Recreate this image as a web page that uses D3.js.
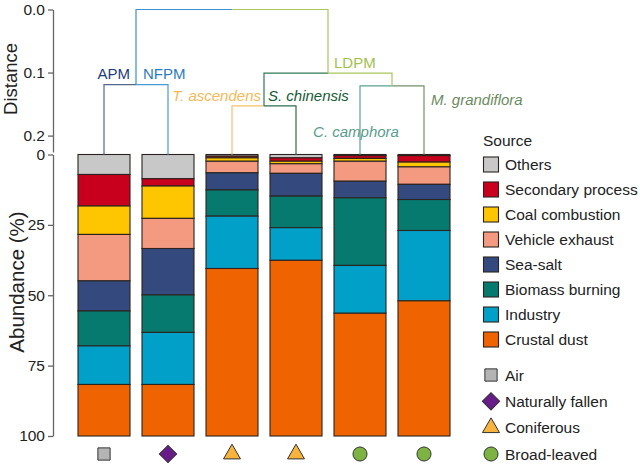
<!DOCTYPE html>
<html>
<head>
<meta charset="utf-8">
<script src="https://cdn.jsdelivr.net/npm/d3@7"></script>
<style>
  body { margin: 0; background: #fff; }
  svg { display: block; font-family: "Liberation Sans", Arial, sans-serif; }
  .axis path, .axis line { stroke: #666; stroke-width: 1.3; }
  .axis text { fill: #222; font-size: 15.5px; font-family: "Liberation Sans", Arial, sans-serif; }
</style>
</head>
<body>
<svg id="chart" width="640" height="464"></svg>
<script>
  "use strict";

  // samples (one bar each), left to right
  const samples = ["APM", "NFPM", "T. ascendens", "S. chinensis", "C. camphora", "M. grandiflora"];
  const sampleType = ["Air", "Naturally fallen", "Coniferous", "Coniferous", "Broad-leaved", "Broad-leaved"];

  // sources, stacked from the top down
  const sources = ["Others", "Secondary process", "Coal combustion", "Vehicle exhaust",
                   "Sea-salt", "Biomass burning", "Industry", "Crustal dust"];

  // abundance (%) per sample
  const others     = [7.1, 8.6, 0.6, 1.2, 0.4, 0.4];
  const secondary  = [11.2, 2.6, 0.6, 1.2, 1.0, 2.3];
  const coal       = [10.1, 11.5, 1.2, 0.9, 1.0, 1.7];
  const vehicle    = [16.5, 10.7, 4.1, 3.4, 7.1, 6.2];
  const seaSalt    = [10.7, 16.5, 6.1, 8.1, 5.9, 5.4];
  const biomass    = [12.4, 13.3, 9.3, 11.2, 24.0, 11.0];
  const industry   = [13.7, 18.5, 18.6, 11.6, 17.0, 25.0];
  const crustal    = [18.3, 18.3, 59.5, 62.4, 43.6, 48.0];
  const seriesValues = [others, secondary, coal, vehicle, seaSalt, biomass, industry, crustal];

  // cluster merges (distance of each join)
  const merges = [
    { id: "AN", left: "APM", right: "NFPM", height: 0.119 },
    { id: "TS", left: "T. ascendens", right: "S. chinensis", height: 0.153 },
    { id: "CM", left: "C. camphora", right: "M. grandiflora", height: 0.121 },
    { id: "LDPM", left: "TS", right: "CM", height: 0.101 },
    { id: "root", left: "AN", right: "LDPM", height: 0 },
  ];

  const distanceTicks = [0, 0.1, 0.2];
  const abundanceTicks = [0, 25, 50, 75, 100];
  const shapeTypes = ["Air", "Naturally fallen", "Coniferous", "Broad-leaved"];

  // ---- styles ----
  const sourceColor = d3.scaleOrdinal().domain(sources).range([
    "#c8c8c8", "#c8001e", "#fec601", "#f49a80", "#344a7e", "#077a70", "#00a0c8", "#f06400"]);

  const branchColor = {
    "AN": "#3d8fcf", "APM": "#56678c", "NFPM": "#4a9ad4",
    "LDPM": "#a9c55e", "TS": "#2e7a55", "T. ascendens": "#f6c06a", "S. chinensis": "#2e6b50",
    "CM": "#a9c55e", "C. camphora": "#5aa393", "M. grandiflora": "#73906a",
  };

  const shapeStyle = {
    "Air": { sym: d3.symbolSquare, size: 150, fill: "#b4b4b4", rot: 0 },
    "Naturally fallen": { sym: d3.symbolSquare, size: 150, fill: "#6a1b8a", rot: 45 },
    "Coniferous": { sym: d3.symbolTriangle, size: 125, fill: "#f8b33c", rot: 0 },
    "Broad-leaved": { sym: d3.symbolCircle, size: 155, fill: "#7cb342", rot: 0 },
  };

  const svg = d3.select("#chart");

  // ---- scales ----
  const x = d3.scaleBand().domain(samples).range([72, 456])
    .paddingInner(0.1875).paddingOuter(0.09375);
  const yAb = d3.scaleLinear().domain([0, 100]).range([154.5, 436]);
  const yDist = d3.scaleLinear().domain([0, 0.226]).range([9.5, 152]);

  // ---- stacked bars ----
  const rows = samples.map((s, i) => {
    const r = { sample: s };
    sources.forEach((src, k) => { r[src] = seriesValues[k][i]; });
    return r;
  });
  const stacked = d3.stack().keys(sources)(rows);

  svg.append("g").attr("class", "bars")
    .selectAll("g")
    .data(stacked)
    .join("g")
    .attr("fill", (d) => sourceColor(d.key))
    .selectAll("rect")
    .data((d) => d)
    .join("rect")
    .attr("x", (d) => x(d.data.sample))
    .attr("width", x.bandwidth())
    .attr("y", (d) => yAb(d[0]))
    .attr("height", (d) => yAb(d[1]) - yAb(d[0]))
    .attr("stroke", "#2b2420")
    .attr("stroke-width", 1.1);

  // ---- dendrogram ----
  const pos = {};
  samples.forEach((s) => { pos[s] = { x: x(s) + x.bandwidth() / 2, y: yAb(0) }; });
  merges.forEach((m) => {
    pos[m.id] = { x: (pos[m.left].x + pos[m.right].x) / 2, y: yDist(m.height) };
  });

  const dendro = svg.append("g").attr("class", "dendro")
    .attr("fill", "none").attr("stroke-width", 1.2);
  merges.forEach((m) => {
    const p = pos[m.id];
    [m.left, m.right].forEach((c) => {
      const q = pos[c];
      dendro.append("path")
        .attr("d", `M${p.x},${p.y}H${q.x}V${q.y}`)
        .attr("stroke", branchColor[c]);
    });
  });

  // cluster / species labels
  const labels = [
    { text: "APM", at: "AN", dx: -6, dy: -6, anchor: "end", color: "#1d3d7c", italic: false },
    { text: "NFPM", at: "AN", dx: 7, dy: -6, anchor: "start", color: "#2b7bbf", italic: false },
    { text: "LDPM", at: "LDPM", dx: 6, dy: -5, anchor: "start", color: "#a3bf4f", italic: false },
    { text: "T. ascendens", at: "TS", dx: -3, dy: -5, anchor: "end", color: "#f6b955", italic: true },
    { text: "S. chinensis", at: "TS", dx: 4, dy: -5, anchor: "start", color: "#135a35", italic: true },
    { text: "C. camphora", at: "CM", dx: -36, dy: 51, anchor: "middle", color: "#5a9c8e", italic: true },
    { text: "M. grandiflora", at: "CM", dx: 39, dy: 19, anchor: "start", color: "#6b8a5e", italic: true },
  ];
  svg.append("g").selectAll("text")
    .data(labels)
    .join("text")
    .attr("x", (d) => pos[d.at].x + d.dx)
    .attr("y", (d) => pos[d.at].y + d.dy)
    .attr("text-anchor", (d) => d.anchor)
    .attr("fill", (d) => d.color)
    .attr("font-size", 15)
    .attr("font-style", (d) => (d.italic ? "italic" : "normal"))
    .text((d) => d.text);

  // ---- axes ----
  svg.append("g").attr("class", "axis")
    .attr("transform", "translate(53,0)")
    .call(d3.axisLeft(yDist).tickValues(distanceTicks).tickFormat(d3.format(".1f"))
      .tickSize(5).tickSizeOuter(0).tickPadding(3));
  svg.append("g").attr("class", "axis")
    .attr("transform", "translate(53,0)")
    .call(d3.axisLeft(yAb).tickValues(abundanceTicks).tickSize(5).tickSizeOuter(0).tickPadding(3));

  svg.append("text")
    .attr("transform", "translate(17,79) rotate(-90)")
    .attr("text-anchor", "middle").attr("font-size", 18.5).attr("fill", "#222")
    .text("Distance");
  svg.append("text")
    .attr("transform", "translate(24,282) rotate(-90)")
    .attr("text-anchor", "middle").attr("font-size", 20.5).attr("fill", "#222")
    .text("Abundance (%)");

  // ---- sample type markers ----
  function drawShape(sel, type) {
    const st = shapeStyle[type];
    sel.append("path")
      .attr("d", d3.symbol().type(st.sym).size(st.size)())
      .attr("transform", (d) => (st.rot ? `rotate(${st.rot})` : null))
      .attr("fill", st.fill)
      .attr("stroke", "#333")
      .attr("stroke-width", 1);
  }
  samples.forEach((s, i) => {
    const g = svg.append("g")
      .attr("transform", `translate(${x(s) + x.bandwidth() / 2},454)`);
    drawShape(g, sampleType[i]);
  });

  // ---- legends ----
  const legend = svg.append("g").attr("class", "legend");
  legend.append("text").attr("x", 483).attr("y", 145.5)
    .attr("font-size", 15.5).attr("fill", "#222").text("Source");

  const srcRow = d3.scalePoint().domain(sources).range([164.5, 339.5]);
  const srcItem = legend.selectAll("g.src")
    .data(sources).join("g").attr("class", "src")
    .attr("transform", (d) => `translate(0,${srcRow(d)})`);
  srcItem.append("rect")
    .attr("x", 483.5).attr("y", -7.5).attr("width", 15).attr("height", 15)
    .attr("fill", (d) => sourceColor(d)).attr("stroke", "#2b2420").attr("stroke-width", 1.1);
  srcItem.append("text")
    .attr("x", 505).attr("y", 5.5).attr("font-size", 15.5).attr("fill", "#222")
    .text((d) => d);

  const shapeRow = d3.scalePoint().domain(shapeTypes).range([375, 454]);
  shapeTypes.forEach((t) => {
    const g = legend.append("g").attr("transform", `translate(491,${shapeRow(t)})`);
    drawShape(g, t);
    g.append("text").attr("x", 14).attr("y", 5.5)
      .attr("font-size", 15.5).attr("fill", "#222").text(t);
  });
</script>
</body>
</html>
